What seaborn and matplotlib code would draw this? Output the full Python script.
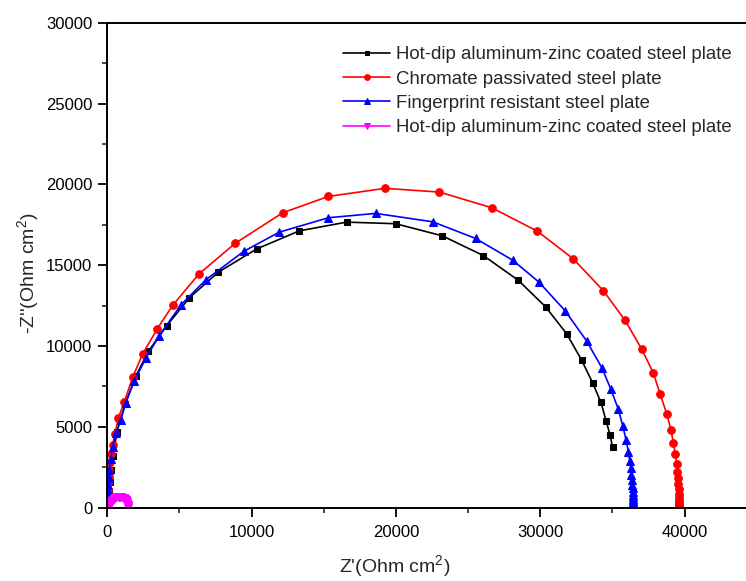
import matplotlib
matplotlib.use("Agg")
import matplotlib.pyplot as plt
from matplotlib.ticker import MultipleLocator
import seaborn as sns
import pandas as pd

# ---- data (kOhm cm2, converted to Ohm cm2 below) ----
black_x = [0.03, 0.05, 0.08, 0.12, 0.19, 0.26, 0.40, 0.67, 1.23, 1.99, 2.84, 4.12, 5.68, 7.69,
           10.35, 13.31, 16.59, 19.99, 23.22, 26.06, 28.48, 30.38, 31.84, 32.88, 33.64,
           34.21, 34.56, 34.84, 35.02]
black_y = [0.10, 0.25, 0.50, 0.95, 1.60, 2.30, 3.20, 4.70, 6.40, 8.15, 9.66, 11.25, 12.97, 14.56,
           16.00, 17.12, 17.66, 17.56, 16.81, 15.59, 14.06, 12.41, 10.74, 9.10, 7.70,
           6.50, 5.38, 4.49, 3.73]

red_x = [0.02, 0.03, 0.04, 0.05, 0.06, 0.08, 0.11, 0.15, 0.20, 0.27, 0.37, 0.53, 0.76, 1.18,
         1.76, 2.45, 3.47, 4.53, 6.33, 8.85, 12.16, 15.32, 19.24, 23.01, 26.64, 29.80,
         32.29, 34.37, 35.88, 37.03, 37.84, 38.30, 38.77, 39.06, 39.22, 39.36, 39.46,
         39.50, 39.55, 39.57, 39.60, 39.61, 39.62, 39.63, 39.63, 39.64, 39.64, 39.64]
red_y = [0.15, 0.35, 0.55, 0.80, 1.10, 1.50, 1.90, 2.30, 2.80, 3.30, 3.87, 4.54, 5.53, 6.54,
         8.07, 9.50, 11.07, 12.51, 14.43, 16.34, 18.24, 19.25, 19.75, 19.52, 18.55, 17.10,
         15.39, 13.42, 11.58, 9.81, 8.32, 7.04, 5.80, 4.80, 4.02, 3.30, 2.70,
         2.22, 1.81, 1.46, 1.13, 0.85, 0.62, 0.45, 0.32, 0.22, 0.14, 0.08]

blue_x = [0.01, 0.02, 0.03, 0.04, 0.06, 0.09, 0.14, 0.24, 0.37, 0.60, 0.93, 1.28, 1.85, 2.68,
          3.60, 5.11, 6.84, 9.47, 11.92, 15.32, 18.59, 22.55, 25.52, 28.10, 29.92, 31.72,
          33.22, 34.28, 34.89, 35.41, 35.72, 35.95, 36.11, 36.20, 36.27, 36.31, 36.36,
          36.38, 36.40, 36.41, 36.42, 36.43, 36.44, 36.44, 36.45, 36.45, 36.45, 36.46, 36.46]
blue_y = [0.30, 0.50, 0.75, 1.05, 1.40, 1.80, 2.32, 2.99, 3.77, 4.60, 5.42, 6.46, 7.80, 9.25,
          10.63, 12.55, 14.10, 15.86, 17.04, 17.93, 18.20, 17.68, 16.65, 15.30, 13.94, 12.18,
          10.30, 8.63, 7.33, 6.09, 5.05, 4.18, 3.46, 2.90, 2.43, 2.01, 1.70,
          1.42, 1.18, 0.98, 0.80, 0.65, 0.52, 0.41, 0.32, 0.24, 0.17, 0.11, 0.06]

mag_x = [1.43, 1.42, 1.41, 1.39, 1.36, 1.32, 1.27, 1.21, 1.14, 1.06, 0.98, 0.89, 0.80, 0.71,
         0.62, 0.54, 0.46, 0.39, 0.32, 0.26, 0.21, 0.17, 0.13, 0.11, 0.09]
mag_y = [0.00, 0.08, 0.16, 0.24, 0.31, 0.38, 0.45, 0.51, 0.56, 0.60, 0.63, 0.65, 0.65, 0.64,
         0.62, 0.58, 0.53, 0.47, 0.41, 0.34, 0.27, 0.20, 0.13, 0.07, 0.02]

labels = ["Hot-dip aluminum-zinc coated steel plate",
          "Chromate passivated steel plate",
          "Fingerprint resistant steel plate",
          "Hot-dip aluminum-zinc coated steel plate "]
colors = ["#000000", "#ff0000", "#0000ff", "#ff00ff"]
markers = ["s", "o", "^", "v"]
msizes = [4.5, 5.5, 5.5, 5.5]
lwidths = [1.2, 1.2, 1.2, 2.5]

x_ticks = [0, 10000, 20000, 30000, 40000]
y_ticks = [0, 5000, 10000, 15000, 20000, 25000, 30000]

sns.set_style("ticks")
plt.rcParams["font.family"] = ["Liberation Sans", "DejaVu Sans"]
plt.rcParams["mathtext.fontset"] = "custom"
plt.rcParams["mathtext.rm"] = "Liberation Sans"

W, H = 746, 581
L, B, T = 107.3, 507.5, 22.7
fig = plt.figure(figsize=(W / 100, H / 100), dpi=100)
ax = fig.add_axes([L / W, 1 - B / H, 1 - L / W, (B - T) / H])

series = [(black_x, black_y), (red_x, red_y), (blue_x, blue_y), (mag_x, mag_y)]
for (xs, ys), lab, c, m, ms, lw in zip(series, labels, colors, markers, msizes, lwidths):
    df = pd.DataFrame({"x": [v * 1000 for v in xs], "y": [v * 1000 for v in ys]})
    sns.lineplot(data=df, x="x", y="y", ax=ax, sort=False, estimator=None,
                 color=c, marker=m, markersize=ms, markeredgecolor=c,
                 linewidth=lw, label=lab)

ax.set_xlim(0, 44260)
ax.set_ylim(0, 30000)
ax.set_xticks(x_ticks)
ax.set_yticks(y_ticks)
ax.xaxis.set_minor_locator(MultipleLocator(5000))
ax.yaxis.set_minor_locator(MultipleLocator(2500))
ax.tick_params(axis="both", which="major", direction="out", length=6.5, width=1.3,
               labelsize=12, colors="black")
ax.tick_params(axis="x", which="major", pad=6)
ax.tick_params(axis="y", which="major", pad=4.3)
ax.tick_params(axis="both", which="minor", direction="out", length=3.6, width=1.2)
for s in ["left", "bottom", "top"]:
    ax.spines[s].set_linewidth(1.4)
    ax.spines[s].set_color("black")
ax.spines["right"].set_visible(False)

ax.set_xlabel("Z'(Ohm cm$^2$)", fontsize=14)
ax.set_ylabel("-Z''(Ohm cm$^2$)", fontsize=14)
ax.xaxis.set_label_coords((395 - L) / (W - L), -(553 - B) / (B - T))
ax.yaxis.set_label_coords(-(L - 42) / (W - L), (B - 273) / (B - T))

leg = ax.legend(loc="upper left", bbox_to_anchor=(343 / W, 1 - 46 / H),
                bbox_transform=fig.transFigure, frameon=False, fontsize=13.4,
                handlelength=2.53, handletextpad=0.32, labelspacing=0.40,
                borderpad=0, borderaxespad=0, markerscale=0.75)
for line in leg.get_lines():
    line.set_linewidth(1.2)

fig.savefig("out.png", dpi=100)
